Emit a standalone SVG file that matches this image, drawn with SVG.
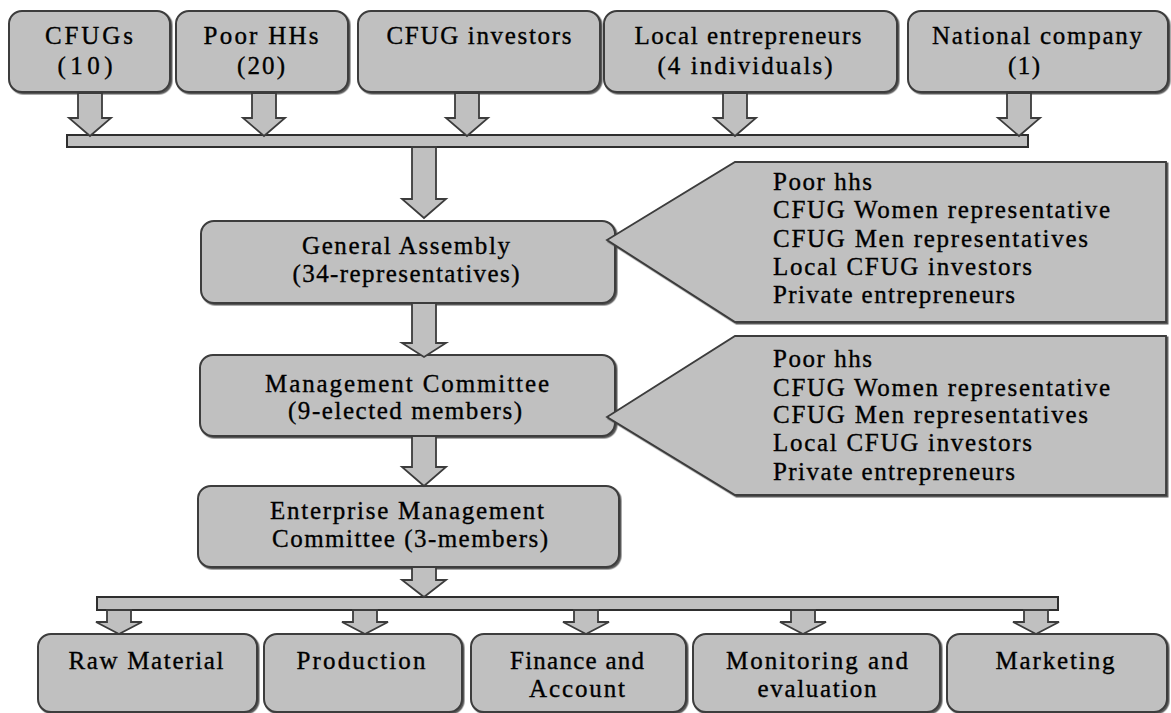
<svg xmlns="http://www.w3.org/2000/svg" width="1171" height="713" viewBox="0 0 1171 713">
  <defs>
    <filter id="shadow" x="-5%" y="-5%" width="110%" height="115%">
      <feDropShadow dx="1.5" dy="1.5" stdDeviation="0.6" flood-color="#444" flood-opacity="0.9"/>
    </filter>
  </defs>
  <style>
    .box { fill: #c0c0c0; stroke: #3c3c3c; stroke-width: 2; filter: url(#shadow); }
    .callout { fill: #c0c0c0; stroke: #3c3c3c; stroke-width: 1.8; filter: url(#shadow); }
    .arrow { fill: #c0c0c0; stroke: #3c3c3c; stroke-width: 1.8; stroke-linejoin: miter; }
    .bar { fill: #c0c0c0; stroke: #2e2e2e; stroke-width: 2; }
    text { font-family: "Liberation Serif", "Times New Roman", serif; font-size: 25px; fill: #000; stroke: #000; stroke-width: 0.35; }
    .c { text-anchor: middle; }
    .l { text-anchor: start; }
  </style>
  <rect width="1171" height="713" fill="#ffffff"/>

  <!-- source nodes -->
  <g id="cfugs">
    <rect class="box" x="9" y="11" width="161" height="81" rx="13"/>
    <text class="c" x="89" y="44" textLength="88" lengthAdjust="spacing">CFUGs</text>
    <text class="c" x="85" y="74" textLength="55" lengthAdjust="spacing">(10)</text>
  </g>
  <g id="poor-hhs">
    <rect class="box" x="176" y="11" width="172" height="81" rx="13"/>
    <text class="c" x="261" y="44" textLength="115" lengthAdjust="spacing">Poor HHs</text>
    <text class="c" x="261" y="74" textLength="48" lengthAdjust="spacing">(20)</text>
  </g>
  <g id="cfug-investors">
    <rect class="box" x="358" y="11" width="242" height="81" rx="13"/>
    <text class="c" x="479" y="44" textLength="185" lengthAdjust="spacing">CFUG investors</text>
  </g>
  <g id="local-entrepreneurs">
    <rect class="box" x="604" y="11" width="293" height="81" rx="13"/>
    <text class="c" x="748" y="44" textLength="227" lengthAdjust="spacing">Local entrepreneurs</text>
    <text class="c" x="745" y="74" textLength="175" lengthAdjust="spacing">(4 individuals)</text>
  </g>
  <g id="national-company">
    <rect class="box" x="908" y="11" width="260" height="81" rx="13"/>
    <text class="c" x="1037" y="44" textLength="210" lengthAdjust="spacing">National company</text>
    <text class="c" x="1024" y="74" textLength="32" lengthAdjust="spacing">(1)</text>
  </g>

  <!-- governance nodes -->
  <g id="general-assembly">
    <rect class="box" x="201" y="221" width="414" height="82" rx="13"/>
    <text class="c" x="406" y="254" textLength="208" lengthAdjust="spacing">General Assembly</text>
    <text class="c" x="406" y="282" textLength="227" lengthAdjust="spacing">(34-representatives)</text>
  </g>
  <g id="management-committee">
    <rect class="box" x="200" y="355" width="415" height="81" rx="13"/>
    <text class="c" x="407" y="392" textLength="284" lengthAdjust="spacing">Management Committee</text>
    <text class="c" x="405" y="419" textLength="234" lengthAdjust="spacing">(9-elected members)</text>
  </g>
  <g id="enterprise-committee">
    <rect class="box" x="198" y="486" width="421" height="81" rx="13"/>
    <text class="c" x="407" y="519" textLength="274" lengthAdjust="spacing">Enterprise Management</text>
    <text class="c" x="410" y="547" textLength="276" lengthAdjust="spacing">Committee (3-members)</text>
  </g>

  <!-- membership callouts -->
  <g id="ga-members">
    <polygon class="callout" points="607,240 735,162 1166,162 1166,322 735,322"/>
    <text class="l" x="773" y="190" textLength="99" lengthAdjust="spacing">Poor hhs</text>
    <text class="l" x="773" y="218" textLength="337" lengthAdjust="spacing">CFUG Women representative</text>
    <text class="l" x="773" y="247" textLength="315" lengthAdjust="spacing">CFUG Men representatives</text>
    <text class="l" x="773" y="275" textLength="259" lengthAdjust="spacing">Local CFUG investors</text>
    <text class="l" x="773" y="303" textLength="242" lengthAdjust="spacing">Private entrepreneurs</text>
  </g>
  <g id="mc-members">
    <polygon class="callout" points="607,417 735,336 1166,336 1166,495 735,495"/>
    <text class="l" x="773" y="367" textLength="99" lengthAdjust="spacing">Poor hhs</text>
    <text class="l" x="773" y="396" textLength="337" lengthAdjust="spacing">CFUG Women representative</text>
    <text class="l" x="773" y="423" textLength="315" lengthAdjust="spacing">CFUG Men representatives</text>
    <text class="l" x="773" y="451" textLength="259" lengthAdjust="spacing">Local CFUG investors</text>
    <text class="l" x="773" y="480" textLength="242" lengthAdjust="spacing">Private entrepreneurs</text>
  </g>

  <!-- functional units -->
  <g id="raw-material">
    <rect class="box" x="38" y="634" width="219" height="78" rx="13"/>
    <text class="c" x="146" y="669" textLength="155" lengthAdjust="spacing">Raw Material</text>
  </g>
  <g id="production">
    <rect class="box" x="264" y="634" width="198" height="78" rx="13"/>
    <text class="c" x="361" y="669" textLength="129" lengthAdjust="spacing">Production</text>
  </g>
  <g id="finance">
    <rect class="box" x="471" y="634" width="215" height="78" rx="13"/>
    <text class="c" x="577" y="669" textLength="134" lengthAdjust="spacing">Finance and</text>
    <text class="c" x="577" y="697" textLength="96" lengthAdjust="spacing">Account</text>
  </g>
  <g id="monitoring">
    <rect class="box" x="693" y="634" width="247" height="78" rx="13"/>
    <text class="c" x="817" y="669" textLength="182" lengthAdjust="spacing">Monitoring and</text>
    <text class="c" x="817" y="697" textLength="119" lengthAdjust="spacing">evaluation</text>
  </g>
  <g id="marketing">
    <rect class="box" x="947" y="634" width="220" height="78" rx="13"/>
    <text class="c" x="1055" y="669" textLength="119" lengthAdjust="spacing">Marketing</text>
  </g>

  <!-- connectors: block arrows and distribution bars -->
  <g id="connectors">
    <rect class="bar" x="67" y="135" width="961" height="12"/>
    <rect class="bar" x="97" y="597" width="961" height="13"/>

    <!-- sources into top bar -->
    <polygon class="arrow" points="78,93 102,93 102,118 111,118 90,136 69,118 78,118"/>
    <polygon class="arrow" points="252,93 276,93 276,118 285,118 264,136 243,118 252,118"/>
    <polygon class="arrow" points="455,93 479,93 479,118 488,118 467,136 446,118 455,118"/>
    <polygon class="arrow" points="723,93 747,93 747,118 756,118 735,136 714,118 723,118"/>
    <polygon class="arrow" points="1007,93 1031,93 1031,118 1040,118 1019,136 998,118 1007,118"/>

    <!-- main chain -->
    <polygon class="arrow" points="412,147 436,147 436,199 446,199 424,218 402,199 412,199"/>
    <polygon class="arrow" points="412,303 436,303 436,343 446,343 424,357 402,343 412,343"/>
    <polygon class="arrow" points="412,436 436,436 436,467 446,467 424,486 402,467 412,467"/>
    <polygon class="arrow" points="412,567 436,567 436,580 446,580 424,597 402,580 412,580"/>

    <!-- bottom bar into units -->
    <polygon class="arrow" points="107,610 131,610 131,622 142,622 119,634 96,622 107,622"/>
    <polygon class="arrow" points="353,610 377,610 377,622 388,622 365,634 342,622 353,622"/>
    <polygon class="arrow" points="574,610 598,610 598,622 609,622 586,634 563,622 574,622"/>
    <polygon class="arrow" points="791,610 815,610 815,622 826,622 803,634 780,622 791,622"/>
    <polygon class="arrow" points="1024,610 1048,610 1048,622 1059,622 1036,634 1013,622 1024,622"/>
  </g>
</svg>
